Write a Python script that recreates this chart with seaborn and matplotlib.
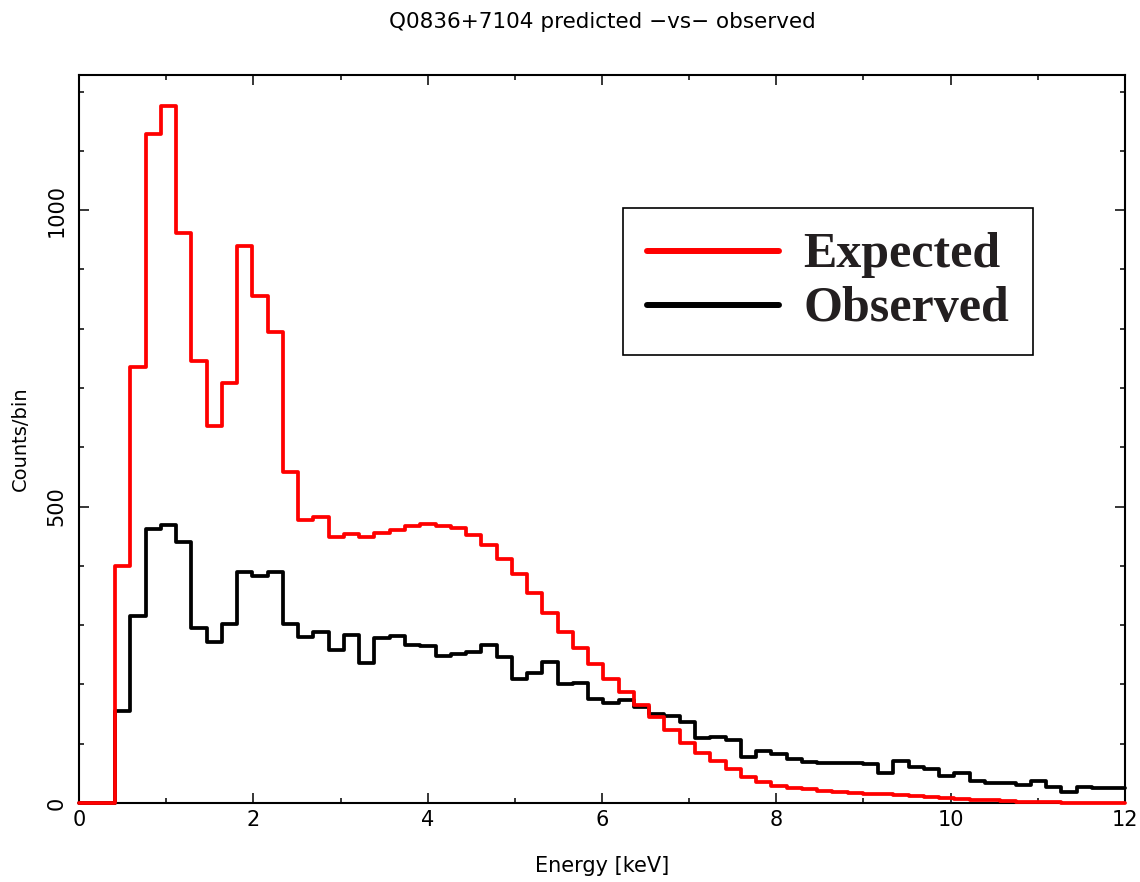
import numpy as np
import pandas as pd
import matplotlib
matplotlib.use("Agg")
import matplotlib.pyplot as plt
import seaborn as sns
from matplotlib.lines import Line2D
from matplotlib.ticker import MultipleLocator

# ---------------- data ----------------
title = "Q0836+7104 predicted \u2212vs\u2212 observed"
x_label = "Energy [keV]"
y_label = "Counts/bin"
series_names = ["Expected", "Observed"]
series_colors = ["#ff0000", "#000000"]

# spectral bins (keV)
bin_start = 0.413
bin_width = 0.1751
n_bins = 66
x_max = 12.0

expected = [400, 735, 1128, 1176, 961, 746, 636, 708, 940, 855,
            795, 558, 478, 483, 449, 454, 449, 456, 461, 468,
            470, 468, 464, 452, 435, 412, 386, 355, 321, 289,
            261, 234, 209, 187, 166, 145, 123, 102, 85, 71,
            57, 44, 35, 28, 26, 23, 21, 19, 17.5, 16,
            14.5, 13, 11.5, 10, 8.5, 7, 5.5, 4.5, 3.5, 2.5,
            1.5, 1, 0.7, 0.5, 0.4, 0.3]

observed = [156, 316, 462, 469, 441, 296, 271, 302, 389, 383,
            389, 302, 280, 288, 258, 284, 236, 278, 282, 266,
            264, 248, 251, 255, 266, 246, 210, 219, 238, 201,
            203, 175, 168, 173, 162, 150, 146, 137, 109, 112,
            106, 78, 87, 83, 75, 69, 68, 68, 68, 65,
            51, 71, 61, 57, 46, 50, 37, 34, 34, 30,
            37, 27, 19, 27, 26, 26]

# ---------------- build table ----------------
edges = np.concatenate([[0.0], bin_start + bin_width * np.arange(n_bins), [x_max]])
centers = 0.5 * (edges[1:-1] + edges[2:])
df = pd.concat([
    pd.DataFrame({"energy": centers, "counts": observed, "series": "Observed"}),
    pd.DataFrame({"energy": centers, "counts": expected, "series": "Expected"}),
], ignore_index=True)

# ---------------- plot ----------------
sns.set_theme(style="white")
plt.rcParams["font.family"] = ["DejaVu Sans"]
plt.rcParams["text.color"] = "black"
plt.rcParams["axes.labelcolor"] = "black"
plt.rcParams["xtick.color"] = "black"
plt.rcParams["ytick.color"] = "black"

fig = plt.figure(figsize=(11.4, 8.82), dpi=100)
ax = fig.add_axes([79 / 1140, 1 - 803 / 882, (1125 - 79) / 1140, (803 - 75) / 882])

color_map = dict(zip(series_names, series_colors))
for name in ["Observed", "Expected"]:
    sub = df[df["series"] == name]
    sns.histplot(data=sub, x="energy", weights="counts", bins=[float(e) for e in edges],
                 element="step", fill=False, color=color_map[name],
                 linewidth=2.7, zorder=3, clip_on=False, ax=ax)

ax.set_xlim(0, 12)
ax.set_ylim(0, 1228)

ax.set_title(title, fontsize=15.5, pad=34)
ax.set_xlabel(x_label, fontsize=15, labelpad=19)
ax.set_ylabel(y_label, fontsize=14, labelpad=12)

ax.xaxis.set_major_locator(MultipleLocator(2))
ax.xaxis.set_minor_locator(MultipleLocator(1))
ax.yaxis.set_major_locator(MultipleLocator(500))
ax.yaxis.set_minor_locator(MultipleLocator(100))
ax.tick_params(which="both", direction="in", top=True, right=True,
               bottom=True, left=True, color="black", width=1.1)
ax.tick_params(which="major", length=7.5)
ax.tick_params(which="minor", length=3.8)
ax.tick_params(axis="x", which="major", labelsize=15, pad=5)
ax.tick_params(axis="y", which="major", labelsize=15, pad=9, labelrotation=90)
for lab in ax.get_yticklabels():
    lab.set_verticalalignment("center")

for sp in ax.spines.values():
    sp.set_visible(True)
    sp.set_color("black")
    sp.set_linewidth(1.5)

handles = [Line2D([], [], color=c, linewidth=4.3) for c in series_colors]
leg = ax.legend(handles, series_names, loc="upper left",
                bbox_to_anchor=((623 - 79) / 1046, (803 - 208) / 728),
                borderaxespad=0, frameon=True, fancybox=False,
                framealpha=1, edgecolor="black",
                prop={"family": "Liberation Serif", "weight": "bold", "size": 36},
                handlelength=2.64, handletextpad=0.5, borderpad=0.47,
                labelspacing=0.16, handleheight=0.5)
leg.get_frame().set_linewidth(1.2)
leg.set_zorder(5)
for t in leg.get_texts():
    t.set_color("#231f20")

fig.savefig("out.png", dpi=100)
